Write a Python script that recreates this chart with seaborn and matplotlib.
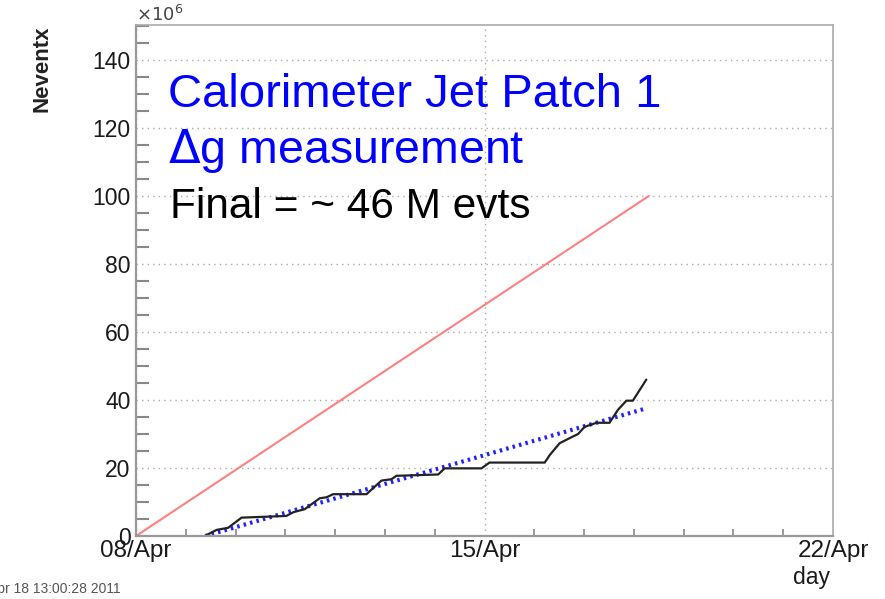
import pandas as pd
import numpy as np
import matplotlib
matplotlib.use("Agg")
import matplotlib.pyplot as plt
import matplotlib.dates as mdates
from matplotlib.ticker import MultipleLocator
import seaborn as sns

sns.set_theme(style="white")
plt.rcParams['font.family'] = ['Liberation Sans', 'DejaVu Sans']

# Dados (dias desde 08/Abr, eventos em milhões)

inicio = pd.Timestamp("2011-04-08")

dias_acum = [1.42, 1.62, 1.85, 2.12, 3.02, 3.16, 3.39, 3.69, 3.83, 3.96, 4.63, 4.93, 5.13,
             5.23, 6.07, 6.20, 6.94, 7.10, 8.21, 8.31, 8.51, 8.74, 8.88, 9.01, 9.25, 9.51,
             9.68, 9.85, 9.98, 10.25]
eventos_acum = [0.3, 1.8, 2.4, 5.4, 5.9, 7.0, 7.9, 11.1, 11.4, 12.3, 12.3, 16.3, 16.7,
                17.7, 18.1, 19.9, 19.9, 21.6, 21.6, 23.8, 27.3, 29.0, 30.0, 32.1, 33.3, 33.3,
                37.1, 39.8, 39.8, 46.0]

dias_meta = [0.0, 10.3]
eventos_meta = [0.0, 100.0]

dias_ajuste = [1.39, 10.26]
eventos_ajuste = [0.0, 37.6]

def para_data(dias):
    return inicio + pd.to_timedelta(dias, unit="D")

acum = pd.DataFrame({"data": para_data(dias_acum), "ev": eventos_acum})
meta = pd.DataFrame({"data": para_data(dias_meta), "ev": eventos_meta})
ajuste = pd.DataFrame({"data": para_data(dias_ajuste), "ev": eventos_ajuste})

# Figura

W, H = 885, 599
fig = plt.figure(figsize=(W / 100, H / 100), dpi=100)
ax = fig.add_axes([136 / W, 1 - 536 / H, (833 - 136) / W, (536 - 25) / H])

sns.lineplot(data=meta, x="data", y="ev", ax=ax, color="#ff8080", linewidth=1.5)
sns.lineplot(data=ajuste, x="data", y="ev", ax=ax, color="#2020ff", linewidth=3,
             linestyle=(0, (0.6, 1.0)))
sns.lineplot(data=acum, x="data", y="ev", ax=ax, color="#222222", linewidth=1.6)

ax.set_xlim(pd.Timestamp("2011-04-08"), pd.Timestamp("2011-04-22"))
ax.set_ylim(0, 150.3)

ax.xaxis.set_major_locator(mdates.DayLocator(bymonthday=[8, 15, 22]))
ax.xaxis.set_minor_locator(mdates.DayLocator())
ax.xaxis.set_major_formatter(mdates.DateFormatter("%d/%b"))
ax.yaxis.set_major_locator(MultipleLocator(20))
ax.yaxis.set_minor_locator(MultipleLocator(5))

ax.tick_params(axis="y", which="major", direction="in", length=15, width=1.5,
               color="#888888", labelsize=16.5, labelcolor="#1a1a1a", pad=4)
ax.tick_params(axis="y", which="minor", direction="in", length=9, width=1.5,
               color="#888888", left=True)
ax.tick_params(axis="x", which="major", direction="in", length=10, width=1.2,
               color="#888888", labelsize=17.5, labelcolor="#1a1a1a", pad=3)
ax.tick_params(axis="x", which="minor", direction="in", length=5, width=1.2,
               color="#888888", bottom=True)

ax.grid(True, which="major", color="#aaaaaa", linestyle=(0, (1, 3)), linewidth=1)

for lado in ["left", "bottom"]:
    ax.spines[lado].set_color("#999999")
    ax.spines[lado].set_linewidth(1.6)
for lado in ["top", "right"]:
    ax.spines[lado].set_color("#aaaaaa")
    ax.spines[lado].set_linewidth(1.2)

ax.set_xlabel("")
ax.set_ylabel("")

# Textos

fig.text(42 / W, 1 - 25 / H, "Neventx", rotation=90, ha="center", va="top",
         fontsize=16, fontweight="bold", color="#222222")
fig.text(830 / W, 1 - 584 / H, "day", ha="right", va="baseline",
         fontsize=16.5, color="#1a1a1a")
fig.text(136 / W, 1 - 21 / H, r"$\times10^{6}$", ha="left", va="baseline",
         fontsize=13, color="#444444")
fig.text(121 / W, 1 - 593 / H, "Mon Apr 18 13:00:28 2011", ha="right", va="baseline",
         fontsize=10, color="#555555")

fig.text(168 / W, 1 - 107 / H, "Calorimeter Jet Patch 1", ha="left", va="baseline",
         fontsize=34, color="#0000ff")
fig.text(168 / W, 1 - 163 / H, r"$\Delta$g measurement", ha="left", va="baseline",
         fontsize=33.5, color="#0000ff")
fig.text(170 / W, 1 - 218 / H, "Final = ~ 46 M evts", ha="left", va="baseline",
         fontsize=30.5, color="black")

fig.savefig("out.png", dpi=100)
